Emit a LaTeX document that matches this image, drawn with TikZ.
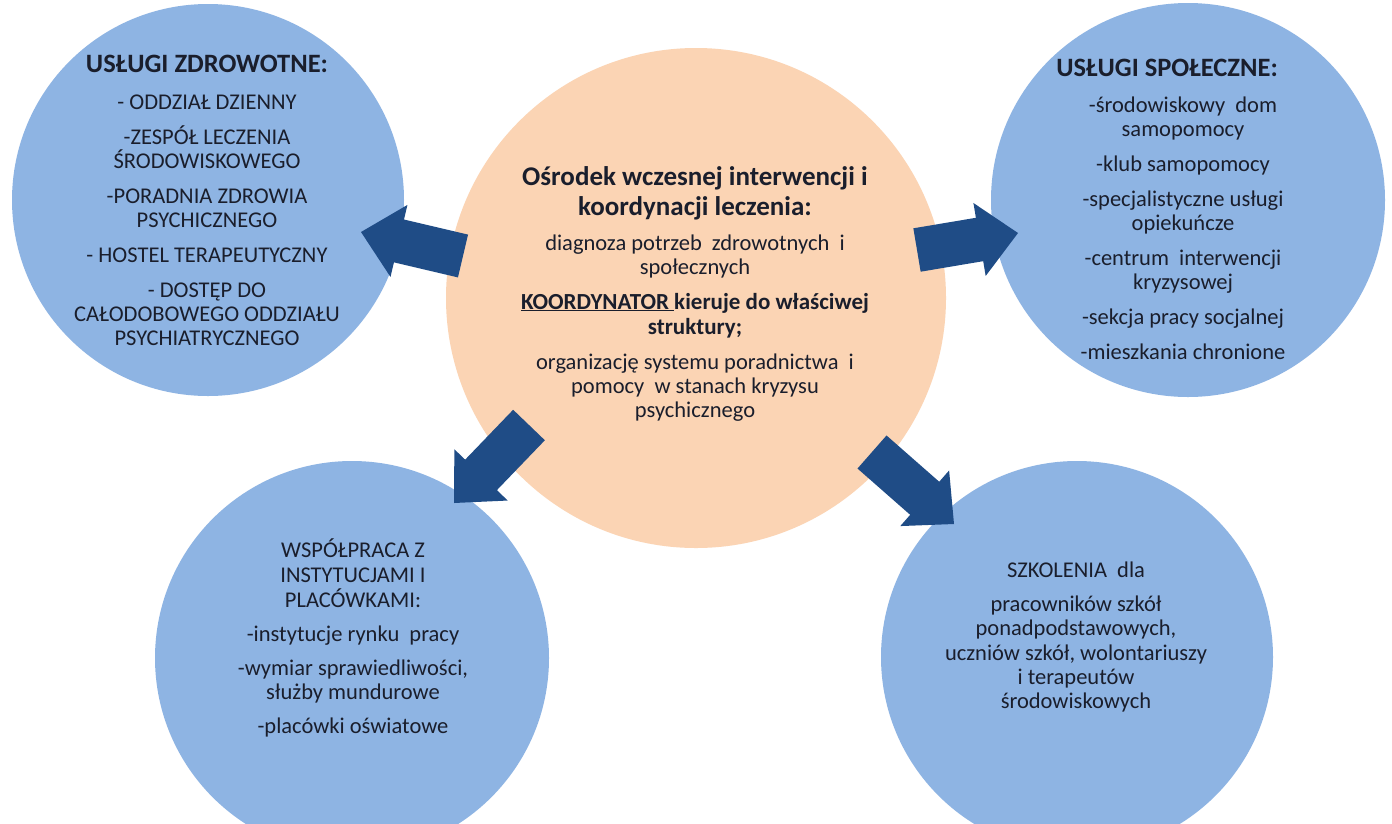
\documentclass[tikz,border=0pt]{standalone}
\usepackage{fontspec}
\setmainfont{Carlito}
\usetikzlibrary{calc}
\definecolor{circblue}{RGB}{142,180,227}
\definecolor{peach}{RGB}{251,212,180}
\definecolor{arrowblue}{RGB}{31,76,134}
\definecolor{txtcol}{RGB}{26,30,44}
\tikzset{
  bubble/.style={circle, fill=circblue, draw=none, inner sep=0pt},
  hub/.style={circle, fill=peach, draw=none, inner sep=0pt},
  txt/.style={text=txtcol, inner sep=0pt, anchor=base, font=\fontsize{22.5}{26}\selectfont},
  txtb/.style={txt, font=\fontsize{23}{26}\selectfont\bfseries},
  ttl/.style={txt, font=\fontsize{26.5}{30}\selectfont\bfseries},
  hubttl/.style={txt, font=\fontsize{27}{30}\selectfont\bfseries},
  blockarrow/.style={fill=arrowblue, draw=none},
}
% #1 prefix, #2 tail centre, #3 tip
\newcommand{\blockarr}[3]{%
  \coordinate (#1h) at ($(#3)!39pt!(#2)$);
  \fill[blockarrow] ($(#2)!22pt!90:(#3)$) -- ($(#1h)!22pt!90:(#3)$) -- ($(#1h)!37pt!90:(#3)$)
    -- (#3) -- ($(#1h)!37pt!-90:(#3)$) -- ($(#1h)!22pt!-90:(#3)$) -- ($(#2)!22pt!-90:(#3)$) -- cycle;
}
\begin{document}
\begin{tikzpicture}[x=1pt,y=-1pt]
\useasboundingbox (0,0) rectangle (1392,823);
\clip (0,0) rectangle (1392,823);
\fill[white] (0,0) rectangle (1392,823);

% circles
\node[bubble, minimum size=392pt] (health) at (208,200) {};
\node[bubble, minimum size=394pt] (social) at (1188,200) {};
\node[bubble, minimum size=394pt] (coop) at (352,658) {};
\node[bubble, minimum size=392pt] (train) at (1077,657) {};
\node[hub, minimum size=500pt] (hub) at (696,298) {};

% health text
\node[ttl] (htitle) at (207,72) {USŁUGI ZDROWOTNE:};
\foreach \t/\y [count=\i] in {
  {- ODDZIAŁ DZIENNY}/109,
  {-ZESPÓŁ LECZENIA}/144,
  {ŚRODOWISKOWEGO}/168,
  {-PORADNIA ZDROWIA}/203,
  {PSYCHICZNEGO}/227,
  {- HOSTEL TERAPEUTYCZNY}/262,
  {- DOSTĘP DO}/297,
  {CAŁODOBOWEGO ODDZIAŁU}/321,
  {PSYCHIATRYCZNEGO}/345}
  \node[txt] (hl\i) at (207,\y) {\t};

% social text
\node[ttl] (stitle) at (1167,76) {USŁUGI SPOŁECZNE:};
\foreach \t/\y [count=\i] in {
  {-środowiskowy\ \ dom}/112,
  {samopomocy}/136,
  {-klub samopomocy}/171,
  {-specjalistyczne usługi}/206,
  {opiekuńcze}/230,
  {-centrum\ \ interwencji}/265,
  {kryzysowej}/289,
  {-sekcja pracy socjalnej}/324,
  {-mieszkania chronione}/359}
  \node[txt] (sl\i) at (1183,\y) {\t};

% hub text
\node[hubttl] (c1) at (695,185) {Ośrodek wczesnej interwencji i};
\node[hubttl] (c2) at (695,215) {koordynacji leczenia:};
\node[txt] (c3) at (695,250) {diagnoza potrzeb\ \ zdrowotnych\ \ i};
\node[txt] (c4) at (695,274) {społecznych};
\node[txtb] (c5) at (695,309) {\underline{KOORDYNATOR\ }kieruje do właściwej};
\node[txtb] (c6) at (695,334) {struktury;};
\node[txt] (c7) at (695,369) {organizację systemu poradnictwa\ \ i};
\node[txt] (c8) at (695,393) {pomocy\ \ w stanach kryzysu};
\node[txt] (c9) at (695,417) {psychicznego};

% cooperation text
\foreach \t/\y [count=\i] in {
  {WSPÓŁPRACA Z}/557,
  {INSTYTUCJAMI I}/582,
  {PLACÓWKAMI:}/607,
  {-instytucje rynku\ \ pracy}/641,
  {-wymiar sprawiedliwości,}/675,
  {służby mundurowe}/699,
  {-placówki oświatowe}/733}
  \node[txt] (bl\i) at (353,\y) {\t};

% training text
\foreach \t/\y [count=\i] in {
  {SZKOLENIA\ \ dla}/577,
  {pracowników szkół}/611,
  {ponadpodstawowych,}/635,
  {uczniów szkół, wolontariuszy}/660,
  {i terapeutów}/684,
  {środowiskowych}/708}
  \node[txt] (br\i) at (1076,\y) {\t};

% arrows
\coordinate (aL0) at (463,256); \coordinate (aL1) at (361,232);
\coordinate (aR0) at (917,250); \coordinate (aR1) at (1018,233);
\coordinate (aBL0) at (529,425); \coordinate (aBL1) at (454,503);
\coordinate (aBR0) at (872,452); \coordinate (aBR1) at (954,524);
\blockarr{aL}{aL0}{aL1}
\blockarr{aR}{aR0}{aR1}
\blockarr{aBL}{aBL0}{aBL1}
\blockarr{aBR}{aBR0}{aBR1}
\end{tikzpicture}
\end{document}
